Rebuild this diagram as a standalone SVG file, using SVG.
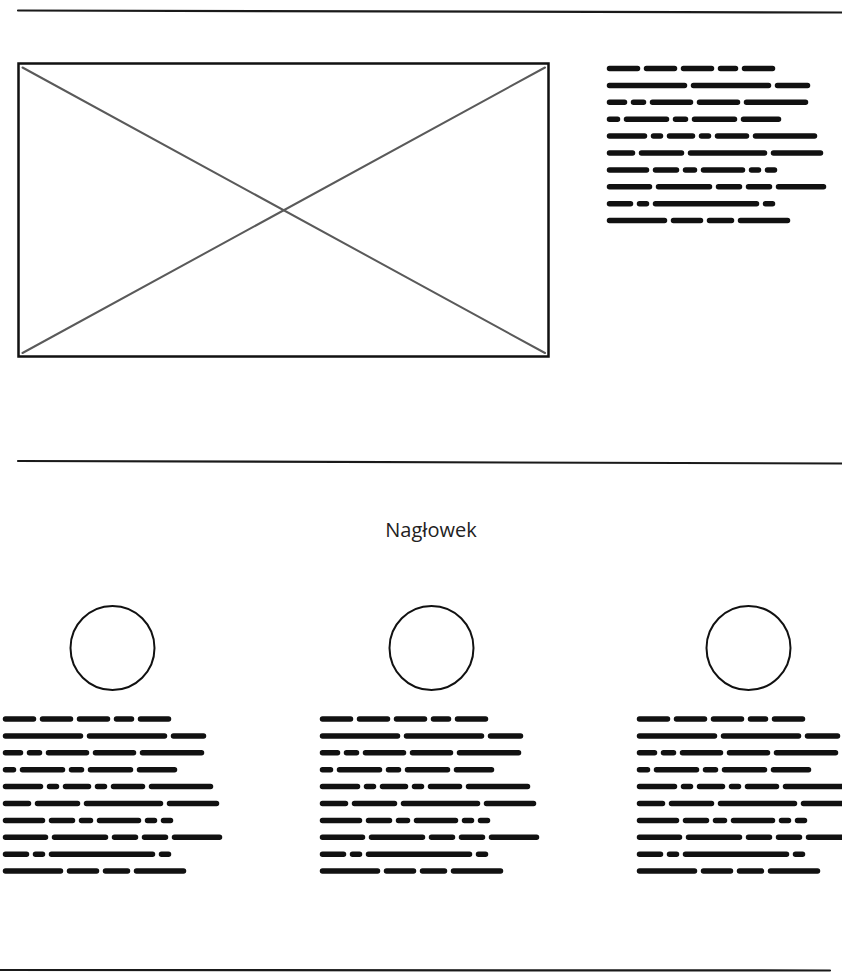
<svg xmlns="http://www.w3.org/2000/svg" width="842" height="973" viewBox="0 0 842 973">
<style>
.rule{stroke:#1a1a1a;stroke-width:2.2;fill:none;stroke-linecap:round}
.frame{fill:#fff;stroke:#111;stroke-width:2.5}
.cross{stroke:#5a5a5a;stroke-width:2;stroke-linecap:round}
.avatar{fill:#fff;stroke:#111;stroke-width:2}
.scrib{stroke:#111;stroke-width:5.5;stroke-linecap:round;fill:none}
.head{font-family:"Open Sans","Liberation Sans",sans-serif;font-size:20px;fill:#222}
</style>
<defs>
<g id="para" class="scrib">
<path d="M2.5 0h28M39.5 0h28M76.5 0h28M113.5 0h15M137.5 0h28"/>
<path d="M2.5 16.9h75M86.5 16.9h75M170.5 16.9h30"/>
<path d="M2.5 33.8h15M26.5 33.8h10M45.5 33.8h38M92.5 33.8h38M139.5 33.8h59"/>
<path d="M2.5 50.7h8M19.5 50.7h40M68.5 50.7h10M87.5 50.7h40M136.5 50.7h35"/>
<path d="M2.5 67.6h35M46.5 67.6h7M62.5 67.6h23M94.5 67.6h7M110.5 67.6h29M148.5 67.6h59"/>
<path d="M2.5 84.5h23M34.5 84.5h40M83.5 84.5h74M166.5 84.5h47"/>
<path d="M2.5 101.4h37M48.5 101.4h21M78.5 101.4h9M96.5 101.4h39M144.5 101.4h7M160.5 101.4h7"/>
<path d="M2.5 118.3h40M51.5 118.3h51M111.5 118.3h21M141.5 118.3h21M171.5 118.3h45"/>
<path d="M2.5 135.2h21M32.5 135.2h7M48.5 135.2h101M158.5 135.2h7"/>
<path d="M2.5 152.1h55M66.5 152.1h27M102.5 152.1h22M133.5 152.1h47"/>
</g>
</defs>
<rect width="842" height="973" fill="#fff"/>
<g id="dividers">
<path class="rule" d="M18 10.5 L842 12.5"/>
<path class="rule" d="M18 461 L842 463.5"/>
<path class="rule" d="M0 970 L830 970.5"/>
</g>
<g id="image-placeholder">
<rect class="frame" x="18.5" y="63.5" width="530" height="293"/>
<line class="cross" x1="22.5" y1="67.5" x2="545" y2="353"/>
<line class="cross" x1="545" y1="67.5" x2="22.5" y2="353"/>
</g>
<g id="intro-text">
<use href="#para" x="607" y="68.5"/>
</g>
<g id="heading">
<text class="head" x="431" y="537" text-anchor="middle">Nagłowek</text>
</g>
<g id="feature-1">
<circle class="avatar" cx="112.5" cy="648" r="42"/>
<use href="#para" x="3" y="719"/>
</g>
<g id="feature-2">
<circle class="avatar" cx="431.5" cy="648" r="42"/>
<use href="#para" x="320" y="719"/>
</g>
<g id="feature-3">
<circle class="avatar" cx="748.5" cy="648" r="42"/>
<use href="#para" x="637" y="719"/>
</g>
<g id="connectors"/>
</svg>
